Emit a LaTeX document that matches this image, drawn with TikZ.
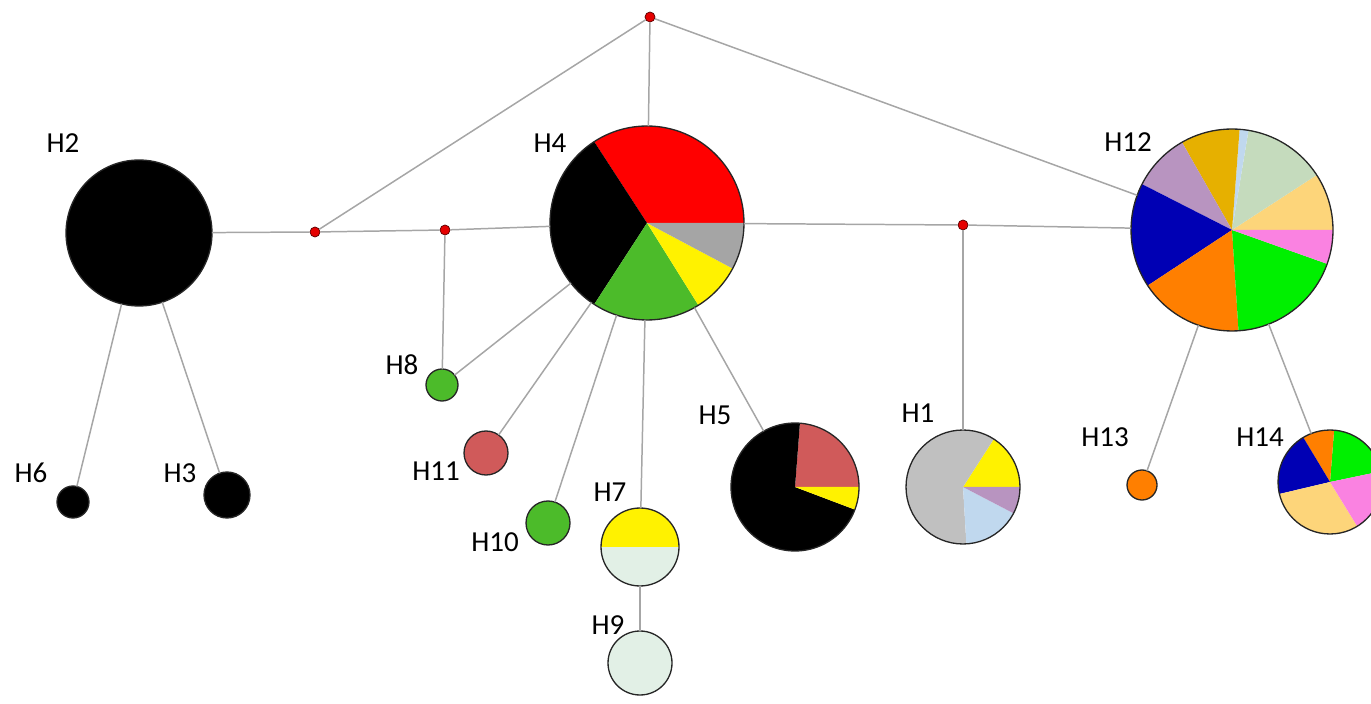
\documentclass[tikz,border=0pt]{standalone}
\usepackage{fontspec}
\setmainfont{Carlito}
\usepackage{tikz}
\usetikzlibrary{calc}
\definecolor{hred}{RGB}{255,0,0}
\definecolor{hgreen}{RGB}{76,187,42}
\definecolor{hgray}{RGB}{165,165,165}
\definecolor{lgray}{RGB}{192,192,192}
\definecolor{brick}{RGB}{208,90,90}
\definecolor{skyb}{RGB}{192,216,238}
\definecolor{lilac}{RGB}{184,148,192}
\definecolor{peach}{RGB}{253,213,122}
\definecolor{sage}{RGB}{197,219,189}
\definecolor{gold}{RGB}{230,176,0}
\definecolor{navy}{RGB}{0,0,180}
\definecolor{orng}{RGB}{255,127,0}
\definecolor{lime}{RGB}{0,240,0}
\definecolor{pinkk}{RGB}{250,130,225}
\definecolor{mint}{RGB}{226,240,230}
\newcommand{\pieslice}[5]{\fill[#5] (#1) -- ++(#3:#2) arc[start angle=#3, end angle=#4, radius=#2] -- cycle;}

\begin{document}
\begin{tikzpicture}[x=0.02cm,y=0.02cm,
	hap/.style={circle, draw=black!85, line width=0.75pt, inner sep=0pt, outer sep=0pt},
	mv/.style={circle, fill=red!90!black, draw=red!35!black, line width=0.4pt, inner sep=0pt, minimum size=0.2cm},
	link/.style={draw=black!35, line width=0.85pt},
	lab/.style={font=\fontsize{16.5}{19}\selectfont, inner sep=0pt}]
		\useasboundingbox (0,0) rectangle (1371,703);
		\clip (0,0) rectangle (1371,703);
		
		\pieslice{647,480}{97}{0}{123}{hred}
		\pieslice{647,480}{97}{123}{237}{black}
		\pieslice{647,480}{97}{237}{302}{hgreen}
		\pieslice{647,480}{97}{302}{332}{yellow}
		\pieslice{647,480}{97}{332}{360}{hgray}
		
		\pieslice{1232,473}{101}{0}{33}{peach}
		\pieslice{1232,473}{101}{33}{80.6}{sage}
		\pieslice{1232,473}{101}{80.6}{85.7}{skyb}
		\pieslice{1232,473}{101}{85.7}{119.7}{gold}
		\pieslice{1232,473}{101}{119.7}{153}{lilac}
		\pieslice{1232,473}{101}{153}{213.4}{navy}
		\pieslice{1232,473}{101}{213.4}{273.7}{orng}
		\pieslice{1232,473}{101}{273.7}{340.4}{lime}
		\pieslice{1232,473}{101}{340.4}{360}{pinkk}
		
		\pieslice{795,216}{64}{0}{85.6}{brick}
		\pieslice{795,216}{64}{85.6}{339.3}{black}
		\pieslice{795,216}{64}{339.3}{360}{yellow}
		
		\pieslice{963,216}{57}{0}{57.3}{yellow}
		\pieslice{963,216}{57}{57.3}{273.4}{lgray}
		\pieslice{963,216}{57}{273.4}{332.5}{skyb}
		\pieslice{963,216}{57}{332.5}{360}{lilac}
		
		\pieslice{1330,221}{52}{11.8}{85.5}{lime}
		\pieslice{1330,221}{52}{85.5}{121}{orng}
		\pieslice{1330,221}{52}{121}{193.3}{navy}
		\pieslice{1330,221}{52}{193.3}{301.6}{peach}
		\pieslice{1330,221}{52}{301.6}{371.8}{pinkk}
		
		\pieslice{640,156}{39}{0}{180}{yellow}
		\pieslice{640,156}{39}{180}{360}{mint}
		
		\node[hap, fill=black, minimum size=2.92cm] (H2) at (139,470) {};
		\node[hap, fill=black, minimum size=0.64cm] (H6) at (73,201) {};
		\node[hap, fill=black, minimum size=0.92cm] (H3) at (227,208) {};
		\node[hap, fill=hgreen, minimum size=0.64cm] (H8) at (442,318) {};
		\node[hap, fill=brick, minimum size=0.88cm] (H11) at (486,250) {};
		\node[hap, fill=hgreen, minimum size=0.88cm] (H10) at (548,180) {};
		\node[hap, minimum size=1.56cm] (H7) at (640,156) {};
		\node[hap, fill=mint, minimum size=1.28cm] (H9) at (640,40) {};
		\node[hap, minimum size=3.88cm] (H4) at (647,480) {};
		\node[hap, minimum size=2.56cm] (H5) at (795,216) {};
		\node[hap, minimum size=2.28cm] (H1) at (963,216) {};
		\node[hap, minimum size=4.04cm] (H12) at (1232,473) {};
		\node[hap, fill=orng, minimum size=0.6cm] (H13) at (1142,218) {};
		\node[hap, minimum size=2.08cm] (H14) at (1330,221) {};
		
		\node[mv] (m1) at (650,686) {};
		\node[mv] (m2) at (315,471) {};
		\node[mv] (m3) at (445,473) {};
		\node[mv] (m4) at (963,478) {};
		
		\draw[link] (m1) -- (m2);
		\draw[link] (m1) -- (H4);
		\draw[link] (m1) -- (H12);
		\draw[link] (H2) -- (m2) -- (m3) -- (H4);
		\draw[link] (m3) -- (H8);
		\draw[link] (H4) -- (H8);
		\draw[link] (H4) -- (H11);
		\draw[link] (H4) -- (H10);
		\draw[link] (H4) -- (H7);
		\draw[link] (H4) -- (H5);
		\draw[link] (H4) -- (m4) -- (H12);
		\draw[link] (m4) -- (H1);
		\draw[link] (H12) -- (H13);
		\draw[link] (H12) -- (H14);
		\draw[link] (H2) -- (H6);
		\draw[link] (H2) -- (H3);
		\draw[link] (H7) -- (H9);
		
		\node[lab] (t2) at (63,560) {H2};
		\node[lab] (t4) at (550,560) {H4};
		\node[lab] (t12) at (1128,561) {H12};
		\node[lab] (t6) at (31,230) {H6};
		\node[lab] (t3) at (180,230) {H3};
		\node[lab] (t8) at (402,338) {H8};
		\node[lab] (t11) at (436,232) {H11};
		\node[lab] (t10) at (495,161) {H10};
		\node[lab] (t7) at (610,211) {H7};
		\node[lab] (t9) at (608,78) {H9};
		\node[lab] (t5) at (715,288) {H5};
		\node[lab] (t1) at (918,290) {H1};
		\node[lab] (t13) at (1105,266) {H13};
		\node[lab] (t14) at (1260,266) {H14};
		\end{tikzpicture}
\end{document}
